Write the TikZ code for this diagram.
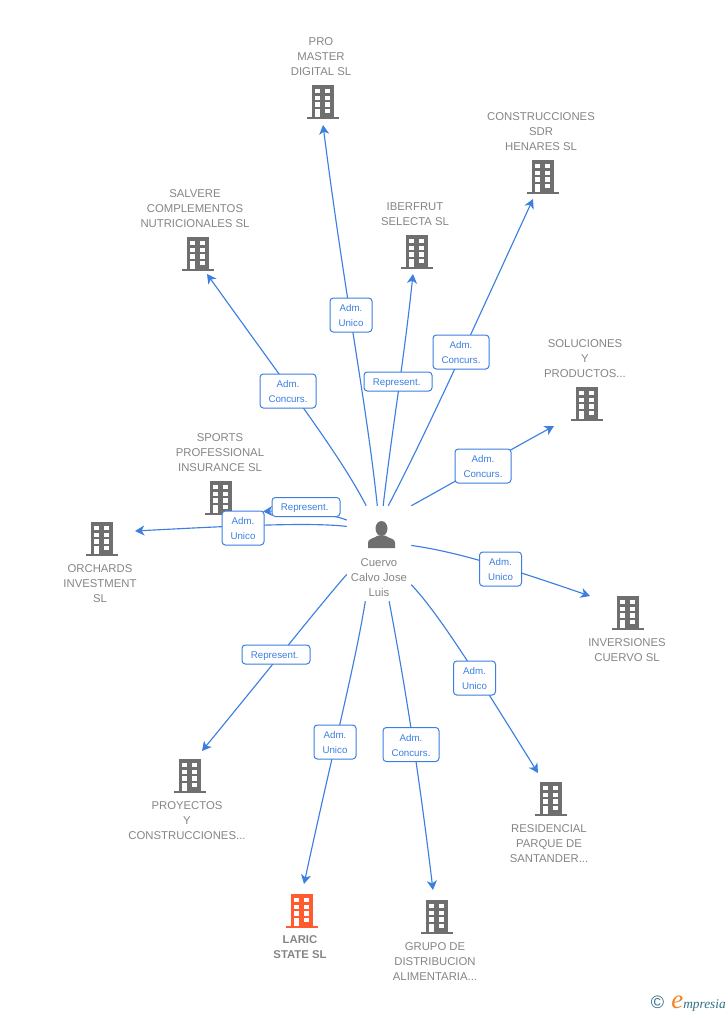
\documentclass[tikz,border=0pt]{standalone}
\usepackage{fontspec}
\setmainfont{Liberation Sans}
\newfontfamily\logofont{Liberation Serif}
\usetikzlibrary{arrows.meta}
\definecolor{linkblue}{HTML}{3C7FE0}
\definecolor{bldgrey}{HTML}{6F6F6F}
\definecolor{textgrey}{HTML}{858585}
\definecolor{larred}{HTML}{FF5B2E}
\definecolor{logoteal}{HTML}{2F6F87}
\definecolor{logoorange}{HTML}{F58220}

\begin{document}
\begin{tikzpicture}[
        x=0.75pt, y=-0.75pt,
        link/.style={line width=0.85pt, color=linkblue, -{Stealth[length=7pt,width=7.5pt,inset=2pt]}},
        rel box/.style={draw=linkblue, line width=0.75pt, fill=white, rounded corners=2.5pt,
            text=linkblue, align=center, inner sep=0pt, minimum height=25.5pt,
            font=\fontsize{7.3}{11.25}\selectfont},
        short box/.style={rel box, minimum width=31.5pt, text height=18pt},
        wide box/.style={rel box, minimum width=42pt, text height=18pt},
        rep box/.style={rel box, minimum width=51pt, minimum height=14.25pt, text height=6.8pt},
        company/.style={text=textgrey, align=center, inner sep=0pt,
            font=\fontsize{8.5}{11.25}\selectfont},
        building/.style={minimum width=24pt, minimum height=25.5pt, inner sep=0pt,
            path picture={
                \begin{scope}[shift={(path picture bounding box.center)}]
                    \fill[#1] (-11,-17) rectangle (11,15);
                    \fill[#1] (-16,15) rectangle (16,17);
                    \fill[white] (-7.7,7) rectangle (-3.3,15);
                    \fill[white] (2.3,7) rectangle (6.7,11.3);
                    \foreach \rowy in {-13,-6.3,0.3} {
                        \fill[white] (-7.7,\rowy) rectangle (-3.3,\rowy+4.4);
                        \fill[white] (2.3,\rowy) rectangle (6.7,\rowy+4.4);
                    }
                \end{scope}
            }},
        person/.style={minimum width=48pt, minimum height=71.25pt, inner sep=0pt,
            path picture={
                \begin{scope}[shift={(path picture bounding box.center)}]
                    \fill[bldgrey] (2.5,-25) ellipse (6 and 7.5);
                    \fill[bldgrey] (-11,-5.5) -- (-11,-11) .. controls (-11,-15) and (-5,-15) .. (-1,-18)
                        -- (6,-18) .. controls (10,-15) and (16,-15) .. (16,-11) -- (16,-5.5) -- cycle;
                \end{scope}
            }}]

    \useasboundingbox (0,0) rectangle (728,1015);

    % companies
    \node[building=bldgrey] (pro) at (323,102) {};
    \node[building=bldgrey] (construcciones) at (543,177) {};
    \node[building=bldgrey] (salvere) at (198,254) {};
    \node[building=bldgrey] (iberfrut) at (417,252) {};
    \node[building=bldgrey] (soluciones) at (587,404) {};
    \node[building=bldgrey] (sports) at (221,498) {};
    \node[building=bldgrey] (orchards) at (102,539) {};
    \node[building=bldgrey] (inversiones) at (628,613) {};
    \node[building=bldgrey] (residencial) at (551,799) {};
    \node[building=bldgrey] (proyectos) at (190,776) {};
    \node[building=larred] (laric) at (302,911) {};
    \node[building=bldgrey] (grupo) at (437,917) {};
    \node[person] (cuervo) at (379,553.5) {};

    % names
    \node[company] (proname) at (321,57) {PRO\\MASTER\\DIGITAL SL};
    \node[company] (construccionesname) at (541,132) {CONSTRUCCIONES\\SDR\\HENARES SL};
    \node[company] (salverename) at (195,209) {SALVERE\\COMPLEMENTOS\\NUTRICIONALES SL};
    \node[company] (iberfrutname) at (415,214.5) {IBERFRUT\\SELECTA SL};
    \node[company] (solucionesname) at (585,359) {SOLUCIONES\\Y\\PRODUCTOS...};
    \node[company] (sportsname) at (220,453) {SPORTS\\PROFESSIONAL\\INSURANCE SL};
    \node[company] (orchardsname) at (100,584) {ORCHARDS\\INVESTMENT\\SL};
    \node[company] (inversionesname) at (627,650.5) {INVERSIONES\\CUERVO SL};
    \node[company] (residencialname) at (549,844) {RESIDENCIAL\\PARQUE DE\\SANTANDER...};
    \node[company] (proyectosname) at (187,821) {PROYECTOS\\Y\\CONSTRUCCIONES...};
    \node[company, font=\fontsize{8.5}{11.25}\selectfont\bfseries] (laricname) at (300,947.5) {LARIC\\STATE SL};
    \node[company] (gruponame) at (435,962) {GRUPO DE\\DISTRIBUCION\\ALIMENTARIA...};
    \node[company] (cuervoname) at (379,578) {Cuervo\\Calvo Jose\\Luis};

    % links
    \draw[link] (cuervo.105.3) .. controls (340,455) and (290,390) .. ([shift={(9,20)}]salvere.center);
    \draw[link] (cuervo.92.4) .. controls (366,400) and (345,297) .. ([shift={(0,23)}]pro.center);
    \draw[link] (cuervo.85.2) .. controls (392,430) and (404,360) .. ([shift={(-4,22)}]iberfrut.center);
    \draw[link] (cuervo.79.3) .. controls (425,435) and (460,358) .. ([shift={(-10,22)}]construcciones.center);
    \draw[link] (cuervo.north east) .. controls (440,490) and (510,450) .. ([shift={(-33,22)}]soluciones.center);
    \draw[link] (cuervo.14) .. controls (460,552) and (520,572) .. ([shift={(-38,-17)}]inversiones.center);
    \draw[link] (cuervo.-44.5) .. controls (440,615) and (480,680) .. ([shift={(-13,-26)}]residencial.center);
    \draw[link] (cuervo.-78) .. controls (402,670) and (416,750) .. ([shift={(-4,-27)}]grupo.center);
    \draw[link] (cuervo.-106.4) .. controls (355,665) and (333,750) .. ([shift={(2,-27)}]laric.center);
    \draw[link] (cuervo.213.7) .. controls (320,605) and (275,662) .. ([shift={(12,-25)}]proyectos.center);
    \draw[link] (cuervo.134.1) .. controls (330,513) and (290,510) .. ([shift={(42,13.5)}]sports.center);
    \draw[link] (cuervo.140.1) .. controls (310,522) and (230,526) .. ([shift={(33,-8)}]orchards.center);

    % relations
    \node[short box] (proadm) at (351,315) {Adm.\\Unico};
    \node[rep box] (iberfrutrep) at (398,381.5) {Represent.\hspace{2pt}};
    \node[wide box] (construccionesadm) at (461,352) {Adm.\\Concurs.};
    \node[wide box] (salvereadm) at (288,391) {Adm.\\Concurs.};
    \node[wide box] (solucionesadm) at (483,466) {Adm.\\Concurs.};
    \node[short box] (inversionesadm) at (500.5,569) {Adm.\\Unico};
    \node[short box] (residencialadm) at (474.5,678) {Adm.\\Unico};
    \node[wide box] (grupoadm) at (411,744.5) {Adm.\\Concurs.};
    \node[short box] (laricadm) at (335,742) {Adm.\\Unico};
    \node[rep box] (proyectosrep) at (276,654.5) {Represent.\hspace{2pt}};
    \node[rep box] (sportsrep) at (306,507) {Represent.\hspace{2pt}};
    \node[short box] (orchardsadm) at (243,528) {Adm.\\Unico};

    % logo
    \node[inner sep=0pt, anchor=east] (logo) at (726,1004) {\textcolor{logoteal}{\fontsize{13.5}{14}\selectfont ©}\hspace{5.5pt}{\logofont\itshape\textcolor{logoorange}{\fontsize{20}{18}\selectfont e}\textcolor{logoteal}{\fontsize{10}{12}\selectfont mpresia}}};
\end{tikzpicture}
\end{document}
